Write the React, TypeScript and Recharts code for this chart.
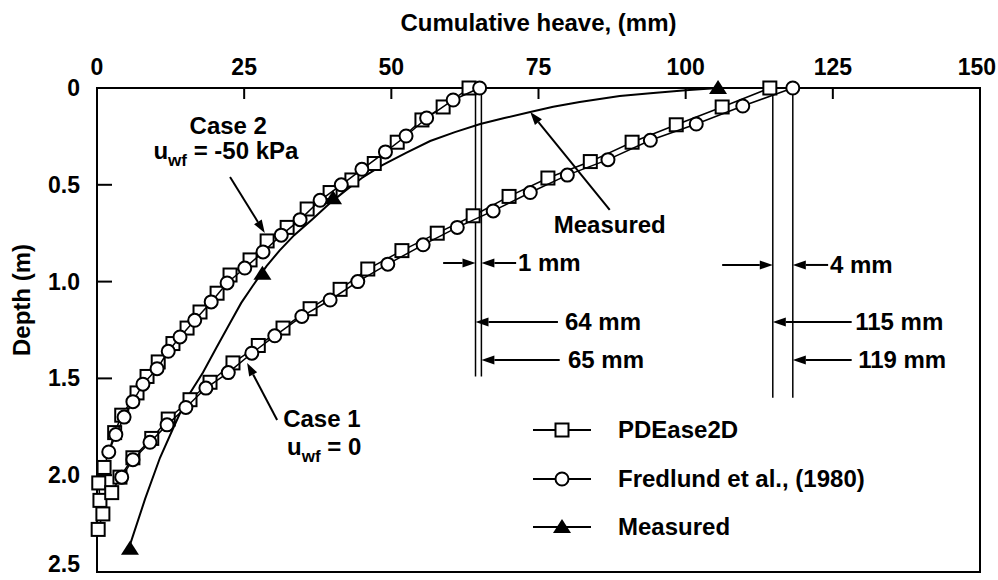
import React from 'react';
import {
  ScatterChart,
  Scatter,
  XAxis,
  YAxis,
  ReferenceLine,
  ReferenceArea,
  ReferenceDot,
  Legend,
} from 'recharts';

const FONT = '"Liberation Sans", Arial, Helvetica, sans-serif';
const FS = 24;
const TICK_FS = 23;

// ---- axis ticks ----
const xTicks = [0, 25, 50, 75, 100, 125, 150];
const yTicks = [0, 0.5, 1, 1.5, 2, 2.5];
const yTickLabels = ['0', '0.5', '1.0', '1.5', '2.0', '2.5'];

// ---- series: [cumulative heave (mm), depth (m)] ----
const case2PDEase = [
  [63.2, 0], [58.8, 0.098], [55.2, 0.165], [51.0, 0.28], [47.1, 0.39], [43.3, 0.475],
  [39.6, 0.54], [35.7, 0.625], [32.3, 0.72], [28.9, 0.79], [26.0, 0.888], [22.6, 0.966],
  [20.4, 1.06], [17.5, 1.157], [15.3, 1.24], [12.9, 1.32], [10.4, 1.415], [8.5, 1.49],
  [6.8, 1.575], [4.2, 1.69], [3.0, 1.78], [1.2, 1.96], [0.3, 2.04], [0.5, 2.13],
  [1.0, 2.2], [0.2, 2.28],
];
const case2Fredlund = [
  [65.0, 0], [60.5, 0.062], [56.0, 0.155], [52.5, 0.248], [49.0, 0.33], [45.0, 0.42],
  [41.5, 0.5], [37.9, 0.58], [34.5, 0.68], [31.3, 0.76], [28.2, 0.847], [25.1, 0.93],
  [22.1, 1.007], [19.4, 1.105], [16.6, 1.2], [14.1, 1.286], [12.1, 1.36], [10.2, 1.45],
  [7.8, 1.53], [6.1, 1.62], [4.6, 1.7], [3.2, 1.79], [2.0, 1.88],
];
const case1PDEase = [
  [114.3, 0], [106.2, 0.098], [98.4, 0.19], [90.9, 0.28], [83.8, 0.38], [76.6, 0.465],
  [70.0, 0.56], [63.9, 0.66], [57.8, 0.75], [51.8, 0.84], [46.0, 0.935], [41.3, 1.04],
  [36.2, 1.14], [31.6, 1.24], [27.4, 1.33], [23.1, 1.42], [19.2, 1.52], [15.8, 1.61],
  [12.1, 1.71], [9.3, 1.81], [6.1, 1.91], [3.9, 2.01], [2.5, 2.09],
];
const case1Fredlund = [
  [118.2, 0], [109.7, 0.093], [101.8, 0.186], [94.0, 0.27], [86.8, 0.37], [79.9, 0.45],
  [73.6, 0.54], [67.3, 0.635], [61.2, 0.72], [55.4, 0.81], [49.4, 0.91], [44.3, 1.0],
  [39.6, 1.095], [34.8, 1.18], [30.2, 1.28], [26.3, 1.37], [22.3, 1.47], [18.5, 1.55],
  [15.1, 1.65], [11.9, 1.74], [9.0, 1.83], [6.1, 1.92], [4.2, 2.01],
];
const measuredCurve = [
  [105.5, 0], [100, 0.012], [94, 0.027], [88.8, 0.041], [82.0, 0.072], [77.5, 0.097],
  [73.6, 0.124], [69.2, 0.155], [65.1, 0.186], [60.8, 0.228], [56.6, 0.274], [52.5, 0.335],
  [48.4, 0.4], [45.0, 0.465], [42.2, 0.53], [39.6, 0.594], [36.5, 0.68], [33.5, 0.76],
  [31.0, 0.84], [28.8, 0.92], [26.5, 1.02], [24.5, 1.11], [22.6, 1.214], [20.3, 1.34],
  [18.0, 1.47], [15.3, 1.6], [12.9, 1.76], [10.7, 1.91], [8.2, 2.12], [5.6, 2.36],
];
const measuredPoints = [[105.5, 0], [40.1, 0.57], [28.1, 0.96], [5.6, 2.38]];

// ---- annotations ----
const heaveLines = [
  { x: 64.3, bottom: 1.49 },
  { x: 65.3, bottom: 1.49 },
  { x: 114.8, bottom: 1.6 },
  { x: 118.2, bottom: 1.6 },
];
const arrows = [
  { from: [22.6, 0.46], to: [28.5, 0.749] },
  { from: [30.6, 1.715], to: [25.5, 1.42] },
  { from: [87.1, 0.63], to: [73.6, 0.124] },
  { from: [58.8, 0.904], to: [64.3, 0.904] },
  { from: [71.2, 0.904], to: [65.3, 0.904] },
  { from: [106.2, 0.914], to: [114.8, 0.914] },
  { from: [124.2, 0.914], to: [118.2, 0.914] },
  { from: [78.3, 1.209], to: [64.3, 1.209] },
  { from: [78.6, 1.405], to: [65.3, 1.405] },
  { from: [128.2, 1.209], to: [114.8, 1.209] },
  { from: [128.2, 1.405], to: [118.2, 1.405] },
];
const notes = [
  { x: 22.3, y: 0.196, text: 'Case 2', anchor: 'middle' },
  { x: 21.9, y: 0.325, text: ' = -50 kPa', sub: true, anchor: 'middle' },
  { x: 38.2, y: 1.71, text: 'Case 1', anchor: 'middle' },
  { x: 38.6, y: 1.85, text: ' = 0', sub: true, anchor: 'middle' },
  { x: 87.1, y: 0.708, text: 'Measured', anchor: 'middle' },
  { x: 71.5, y: 0.904, text: '1 mm', anchor: 'start' },
  { x: 124.5, y: 0.914, text: '4 mm', anchor: 'start' },
  { x: 79.5, y: 1.209, text: '64 mm', anchor: 'start' },
  { x: 80.0, y: 1.405, text: '65 mm', anchor: 'start' },
  { x: 128.8, y: 1.209, text: '115 mm', anchor: 'start' },
  { x: 129.3, y: 1.405, text: '119 mm', anchor: 'start' },
];
const legendItems = [
  { label: 'PDEase2D', marker: 'square' },
  { label: 'Fredlund et al., (1980)', marker: 'circle' },
  { label: 'Measured', marker: 'triangle' },
];

const pts = (a: number[][]) => a.map(([x, y]) => ({ x, y }));

const X_GAP = 13;
const Y_GAP = 17;
const CHART_W = 998;
const CHART_H = 580;

const textStyle = { fontFamily: FONT, fontWeight: 700, fontSize: FS, fill: '#000' } as const;
const tickStyle = { fontFamily: FONT, fontWeight: 700, fontSize: TICK_FS, fill: '#000' } as const;

const XTick = (p: any) => {
  const label = String(p.payload.value);
  const halfW = (label.length * TICK_FS * 0.556) / 2;
  const overflow = p.x + halfW > CHART_W - 2;
  return (
    <g>
      <text
        x={overflow ? CHART_W - 2 : p.x}
        y={p.y}
        textAnchor={overflow ? 'end' : 'middle'}
        style={tickStyle}
      >
        {label}
      </text>
      <line x1={p.x} x2={p.x} y1={p.y + X_GAP} y2={p.y + X_GAP + 11} stroke="#000" strokeWidth={2} />
    </g>
  );
};
const YTick = (p: any) => {
  const i = yTicks.indexOf(p.payload.value);
  const bottom = p.y + TICK_FS * 0.6;
  const lift = bottom > CHART_H - 2 ? bottom - (CHART_H - 2) : 0;
  return (
    <g>
      <text x={p.x} y={p.y - lift} dy="0.35em" textAnchor="end" style={tickStyle}>
        {i >= 0 ? yTickLabels[i] : p.payload.value}
      </text>
      <line x1={p.x + Y_GAP} x2={p.x + Y_GAP + 15} y1={p.y} y2={p.y} stroke="#000" strokeWidth={2} />
    </g>
  );
};
const YLabel = (props: any) => {
  const vb = props.viewBox || { x: 0, y: 88, width: 97, height: 484 };
  const cx = vb.x + 22;
  const cy = vb.y + vb.height / 2 - 30;
  return (
    <text x={cx} y={cy} dy="0.35em" textAnchor="middle" transform={`rotate(-90, ${cx}, ${cy})`} style={textStyle}>
      Depth (m)
    </text>
  );
};

const SquareShape = (p: any) => (
  <rect x={p.cx - 6.5} y={p.cy - 6.5} width={13} height={13} fill="#fff" stroke="#000" strokeWidth={2} />
);
const CircleShape = (p: any) => (
  <circle cx={p.cx} cy={p.cy} r={6.5} fill="#fff" stroke="#000" strokeWidth={2} />
);
const TriangleShape = (p: any) => (
  <polygon points={`${p.cx},${p.cy - 8} ${p.cx + 9},${p.cy + 6} ${p.cx - 9},${p.cy + 6}`} fill="#000" />
);
const NoShape = () => <g />;

const ArrowShape = (p: any) => {
  const { x1, y1, x2, y2 } = p;
  const ang = Math.atan2(y2 - y1, x2 - x1);
  const L = 13;
  const W = 4.5;
  const bx = x2 - L * Math.cos(ang);
  const by = y2 - L * Math.sin(ang);
  const px = -Math.sin(ang) * W;
  const py = Math.cos(ang) * W;
  return (
    <g>
      <line x1={x1} y1={y1} x2={bx} y2={by} stroke="#000" strokeWidth={2} />
      <polygon points={`${x2},${y2} ${bx + px},${by + py} ${bx - px},${by - py}`} fill="#000" />
    </g>
  );
};

const makeNote = (n: any) => (p: any) => (
  <text x={p.cx} y={p.cy} textAnchor={n.anchor} style={textStyle}>
    {n.sub ? (
      <>
        <tspan dy="0.35em">u</tspan>
        <tspan dy={7} fontSize={17}>wf</tspan>
        <tspan dy={-7}>{n.text}</tspan>
      </>
    ) : (
      <tspan dy="0.35em">{n.text}</tspan>
    )}
  </text>
);

const LegendIcon = ({ marker }: { marker: string }) => (
  <svg width={58} height={22} style={{ display: 'block' }}>
    <line x1={0} x2={58} y1={11} y2={11} stroke="#000" strokeWidth={2} />
    {marker === 'square' && <rect x={22.5} y={4.5} width={13} height={13} fill="#fff" stroke="#000" strokeWidth={2} />}
    {marker === 'circle' && <circle cx={29} cy={11} r={6.5} fill="#fff" stroke="#000" strokeWidth={2} />}
    {marker === 'triangle' && <polygon points="29,3 38,17 20,17" fill="#000" />}
  </svg>
);

const renderLegend = () => (
  <div style={{ fontFamily: FONT, fontWeight: 700, fontSize: FS, color: '#000' }}>
    {legendItems.map((it) => (
      <div key={it.label} style={{ display: 'flex', alignItems: 'center', height: 48.5 }}>
        <LegendIcon marker={it.marker} />
        <span style={{ marginLeft: 27, whiteSpace: 'nowrap' }}>{it.label}</span>
      </div>
    ))}
  </div>
);

export default function App() {
  return (
    <div style={{ position: 'absolute', left: 0, top: 0, width: CHART_W, height: CHART_H, background: '#fff' }}>
      <ScatterChart width={CHART_W} height={CHART_H} margin={{ top: 0, right: 18, bottom: 8, left: 0 }}>
        <XAxis
          type="number"
          dataKey="x"
          orientation="top"
          domain={[0, 150]}
          ticks={xTicks}
          height={88}
          axisLine={false}
          tickLine={false}
          tickSize={0}
          tickMargin={X_GAP}
          tick={XTick}
          interval={0}
          label={{ value: 'Cumulative heave, (mm)', position: 'insideTop', offset: 14, ...textStyle }}
        />
        <YAxis
          type="number"
          dataKey="y"
          domain={[0, 2.5]}
          reversed
          ticks={yTicks}
          width={97}
          axisLine={false}
          tickLine={false}
          tickSize={0}
          tickMargin={Y_GAP}
          tick={YTick}
          interval={0}
          label={YLabel}
        />
        <ReferenceArea x1={0} x2={150} y1={0} y2={2.5} fill="none" fillOpacity={0} stroke="#000" strokeWidth={2} />
        {heaveLines.map((l, i) => (
          <ReferenceLine
            key={`vl${i}`}
            segment={[{ x: l.x, y: 0 }, { x: l.x, y: l.bottom }]}
            stroke="#000"
            strokeWidth={1.5}
          />
        ))}
        {arrows.map((a, i) => (
          <ReferenceLine
            key={`ar${i}`}
            segment={[{ x: a.from[0], y: a.from[1] }, { x: a.to[0], y: a.to[1] }]}
            shape={ArrowShape}
          />
        ))}
        {notes.map((n, i) => (
          <ReferenceDot key={`nt${i}`} x={n.x} y={n.y} r={0} shape={makeNote(n)} />
        ))}
        <Scatter
          name="measured-curve"
          data={pts(measuredCurve)}
          line={{ stroke: '#000', strokeWidth: 2 }}
          shape={NoShape}
          isAnimationActive={false}
          legendType="none"
        />
        <Scatter
          name="Case 2 PDEase2D"
          data={pts(case2PDEase)}
          line={{ stroke: '#000', strokeWidth: 1.5 }}
          shape={SquareShape}
          isAnimationActive={false}
        />
        <Scatter
          name="Case 2 Fredlund"
          data={pts(case2Fredlund)}
          line={{ stroke: '#000', strokeWidth: 1.5 }}
          shape={CircleShape}
          isAnimationActive={false}
        />
        <Scatter
          name="Case 1 PDEase2D"
          data={pts(case1PDEase)}
          line={{ stroke: '#000', strokeWidth: 1.5 }}
          shape={SquareShape}
          isAnimationActive={false}
        />
        <Scatter
          name="Case 1 Fredlund"
          data={pts(case1Fredlund)}
          line={{ stroke: '#000', strokeWidth: 1.5 }}
          shape={CircleShape}
          isAnimationActive={false}
        />
        <Scatter
          name="Measured"
          data={pts(measuredPoints)}
          shape={TriangleShape}
          isAnimationActive={false}
        />
        <Legend
          layout="vertical"
          align="center"
          verticalAlign="middle"
          content={renderLegend}
          wrapperStyle={{ position: 'absolute', left: 533, top: 406, width: 430 }}
        />
      </ScatterChart>
    </div>
  );
}
